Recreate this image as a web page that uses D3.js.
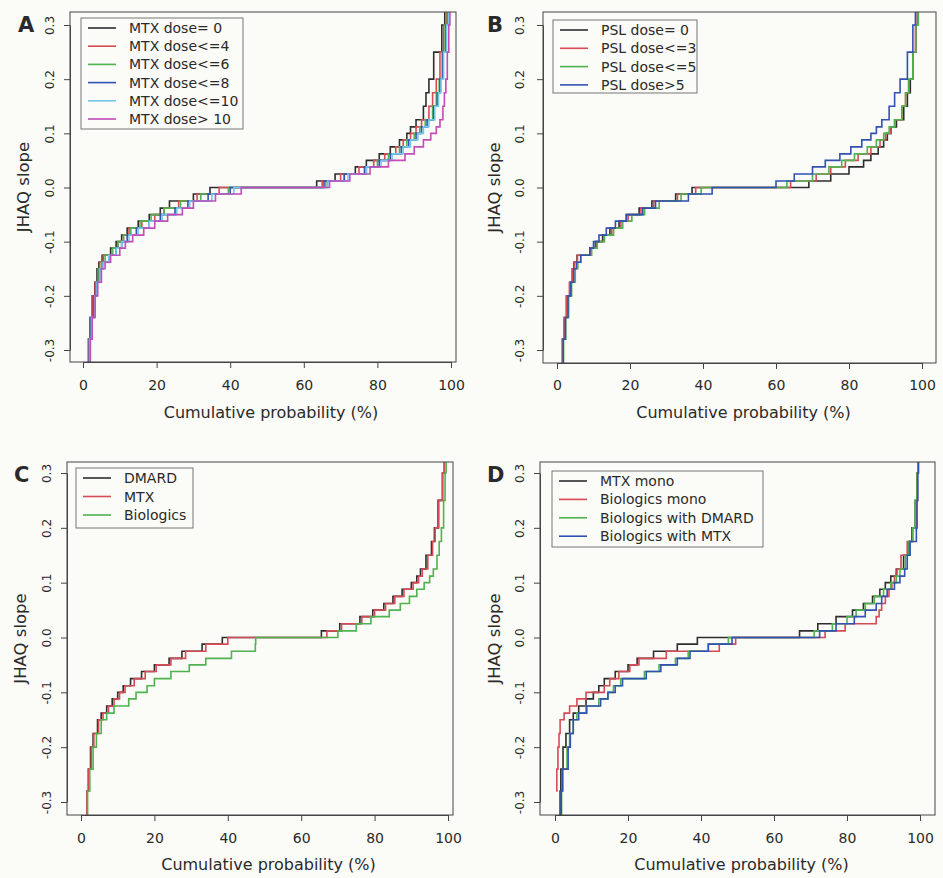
<!DOCTYPE html>
<html>
<head>
<meta charset="utf-8">
<script src="https://cdn.jsdelivr.net/npm/d3@7"></script>
<style>
  body { margin: 0; background: #fbfbf7; }
  text { font-family: "DejaVu Sans", "Liberation Sans", sans-serif; fill: #2a2a2a; }
</style>
</head>
<body>
<div id="chart"></div>
<script>
// slope levels shared by every curve; each series gives the cumulative % where the level starts
const slopeLevels = [-0.33, -0.28, -0.24, -0.2, -0.175, -0.15, -0.138, -0.125, -0.112, -0.1, -0.088, -0.075,
  -0.062, -0.05, -0.038, -0.025, -0.012, 0, 0.012, 0.025, 0.038, 0.05, 0.062, 0.075, 0.088, 0.1, 0.112,
  0.125, 0.15, 0.175, 0.2, 0.25, 0.3, 0.33];

const xTicks = [0, 20, 40, 60, 80, 100];
const yTicks = [-0.3, -0.2, -0.1, 0, 0.1, 0.2, 0.3];
const yTickLabels = ["-0.3", "-0.2", "-0.1", "0.0", "0.1", "0.2", "0.3"];

// A: MTX dose
const mtxNames = ["MTX dose= 0", "MTX dose<=4", "MTX dose<=6", "MTX dose<=8", "MTX dose<=10", "MTX dose> 10"];
const mtxDose0 = [1.2, 1.5, 1.9, 2.5, 3.2, 3.8, 4.3, 5.2, 7.5, 9, 10.5, 12, 15, 18, 21, 23.5, 30, 34.5,
  63.5, 68.5, 74, 77, 80.5, 83.5, 86, 88, 89, 90.5, 92.5, 93.2, 94, 95.3, 97.5, 98.3];
const mtxDose4 = [1.2, 1.5, 2, 2.7, 3.3, 4, 4.5, 5.5, 8, 9.5, 11, 12.5, 16, 19.5, 22, 26, 31, 37,
  65, 70, 75, 79, 82, 85, 87, 89, 90.5, 92, 94, 95, 96, 97, 98, 98.8];
const mtxDose6 = [1.5, 1.8, 2.3, 3, 3.5, 4.3, 5, 6, 8, 9.5, 11, 13, 15.5, 18.5, 22, 26.5, 32, 39.5,
  66, 71, 77, 80, 83, 86, 88, 90, 91.5, 93, 95, 96, 96.8, 97.6, 98.4, 99];
const mtxDose8 = [1.3, 1.7, 2.2, 3, 3.7, 4.5, 5.5, 7, 9, 10.5, 12, 14.5, 18, 21, 25, 28.5, 34, 40,
  65.5, 71, 76.5, 80.5, 83.5, 86.5, 88.5, 90.5, 92, 93.5, 95.3, 96.3, 97, 97.8, 98.6, 99.2];
const mtxDose10 = [1.4, 1.8, 2.3, 3.2, 3.8, 4.6, 5.5, 7, 9, 10.5, 12.5, 15, 18, 21.5, 25.5, 29, 35, 41,
  66.5, 72, 77, 81, 84, 87, 89, 91, 92.5, 94, 95.6, 96.6, 97.3, 98, 98.8, 99.3];
const mtxDoseOver10 = [1.5, 2, 2.5, 3.3, 4, 5, 6, 7.5, 10, 11.5, 13.5, 16.5, 19.5, 23, 27, 30, 36, 43,
  67, 72.5, 78, 83, 87.5, 90, 92.5, 94.5, 96, 97, 97.8, 98.2, 98.6, 99, 99.4, 99.7];

// B: PSL dose
const pslNames = ["PSL dose= 0", "PSL dose<=3", "PSL dose<=5", "PSL dose>5"];
const pslDose0 = [1.2, 1.5, 2, 2.6, 3.5, 4.2, 4.6, 5.5, 9, 10.5, 12.5, 14.5, 17, 19, 22.5, 26, 32.5, 37,
  69, 75, 80, 84, 86, 88, 89.5, 90.5, 91.5, 93, 95, 96, 96.8, 97.5, 98.3, 98.8];
const pslDose3 = [1.2, 1.5, 2, 2.6, 3.4, 4.2, 4.7, 5.6, 9.2, 10.8, 12.8, 15, 17.5, 19.5, 23, 26.5, 33, 38,
  64, 71, 75, 79, 82.5, 86, 88.5, 90, 91.5, 92.5, 94.5, 95.5, 96.5, 97.5, 98.2, 98.7];
const pslDose5 = [1.5, 1.8, 2.4, 3.2, 4, 5, 5.7, 6.5, 9.5, 11, 13, 15.5, 18, 20.5, 24, 28, 34, 39.5,
  63, 70, 74.5, 78, 81.5, 85, 87.5, 89.5, 91, 92.5, 94.5, 95.5, 96.3, 97.5, 98.3, 99];
const pslDoseOver5 = [1.3, 1.7, 2.3, 3, 3.8, 4.6, 5.3, 6.5, 9, 10, 11.5, 13.5, 16, 19, 23.5, 27, 36, 42.5,
  60, 65, 70, 73.5, 77.5, 80.5, 83.5, 86, 87.5, 89, 91, 92.5, 94, 96, 97.5, 98.2];

// C: drug class
const drugNames = ["DMARD", "MTX", "Biologics"];
const dmard = [1.2, 1.6, 2, 2.6, 3.3, 4.5, 5.5, 7, 8.5, 10, 11.5, 13.5, 16.5, 20, 24, 27.5, 33, 38.5,
  65.5, 70.5, 76, 79.5, 82.5, 85, 87.5, 90, 91.5, 92.5, 94, 95.5, 96.3, 97.3, 98.5, 99];
const mtx = [1.2, 1.6, 2.1, 2.8, 3.5, 4.8, 6, 7.5, 9, 10.5, 12, 14.5, 17.5, 20.5, 24.5, 28.5, 34, 40,
  67, 71, 76.5, 80, 83, 85.5, 88, 90.5, 92, 93, 94.5, 95.8, 96.5, 97.5, 98.5, 99];
const biologics = [1.4, 1.8, 2.4, 3.3, 4.2, 5.5, 7, 9, 13, 15, 18, 20, 24.5, 29.5, 34, 41, 47.5, 47.6,
  70, 75, 79, 84, 87, 89.5, 91.5, 93.5, 95, 96, 97, 97.6, 98.2, 98.8, 99.2, 99.5];

// D: treatment combination
const comboNames = ["MTX mono", "Biologics mono", "Biologics with DMARD", "Biologics with MTX"];
const mtxMono = [1.2, 1.4, 1.6, 2.2, 3, 4, 5, 6.5, 8.5, 10.5, 12, 13.5, 16.5, 20, 22.5, 27, 33.5, 39,
  67, 72, 77, 81.5, 84.5, 87, 89, 90.5, 92, 93.5, 95.5, 97, 97.8, 98.7, 99.2, 99.5];
const biologicsMono = [null, 0.3, 0.5, 0.8, 1.1, 1.4, 2.5, 4, 6, 8.5, 13.5, 15, 17.5, 20.5, 23, 30.5, 45, 49.5,
  74, 79.5, 88, 88.8, 89.5, 90.5, 91.5, 92.3, 93, 93.7, 94.8, 96.5, 98, 99, 99.3, 99.5];
const biologicsDmard = [1.5, 1.8, 2.2, 3.3, 4, 5, 6, 8.5, 12, 14.5, 16, 18, 24.5, 28.5, 33, 36.5, 42, 47.5,
  71, 76, 80, 82.5, 85, 87.5, 90, 92, 93.5, 94.5, 96, 97, 98, 98.7, 99.2, 99.5];
const biologicsMtx = [1.4, 1.7, 2, 3.6, 4.2, 5, 6.5, 8.7, 12.5, 14.5, 16.5, 18.5, 25, 29, 33.5, 37, 42, 48.5,
  72.5, 77, 82, 85, 88, 89.5, 91, 93, 94.5, 95.8, 96.5, 97.3, 99, 99.2, 99.4, 99.6];

const palette = ["#2e2e2e", "#d64b57", "#4fb34f", "#3152b3", "#74c8ea", "#c24cb8"];

const panels = [
  { letter: "A", names: mtxNames, series: [mtxDose0, mtxDose4, mtxDose6, mtxDose8, mtxDose10, mtxDoseOver10],
    box: [70, 12, 456, 362], xr: [83, 451], yr: [350, 25], legend: [81, 18, 243, 129], legendRow: 18.2,
    yTickX: 50, yTitleX: 23, letterXY: [18, 32], titleY: 418, tickY: 390 },
  { letter: "B", names: pslNames, series: [pslDose0, pslDose3, pslDose5, pslDoseOver5],
    box: [543, 12, 936, 363], xr: [557, 922], yr: [350, 25], legend: [553, 20, 697, 93], legendRow: 18.3,
    yTickX: 520, yTitleX: 494, letterXY: [487, 32], titleY: 418, tickY: 390 },
  { letter: "C", names: drugNames, series: [dmard, mtx, biologics],
    box: [67, 462, 453, 815], xr: [81, 448], yr: [802, 473], legend: [76, 468, 193, 528], legendRow: 18.5,
    yTickX: 47, yTitleX: 20, letterXY: [14, 482], titleY: 870, tickY: 843 },
  { letter: "D", names: comboNames, series: [mtxMono, biologicsMono, biologicsDmard, biologicsMtx],
    box: [540, 462, 935, 815], xr: [555, 920], yr: [802, 473], legend: [552, 471, 763, 547], legendRow: 18.4,
    yTickX: 520, yTitleX: 494, letterXY: [487, 482], titleY: 870, tickY: 843 }
];

const svg = d3.select("#chart").append("svg")
  .attr("width", 943).attr("height", 878);

svg.append("rect").attr("width", 943).attr("height", 878).attr("fill", "#fbfbf7");

panels.forEach((p, pi) => {
  const [bx0, by0, bx1, by1] = p.box;
  const x = d3.scaleLinear().domain([0, 100]).range(p.xr);
  const y = d3.scaleLinear().domain([-0.3, 0.3]).range(p.yr);
  const g = svg.append("g");

  const clipId = "clip" + pi;
  g.append("clipPath").attr("id", clipId)
    .append("rect").attr("x", bx0).attr("y", by0).attr("width", bx1 - bx0).attr("height", by1 - by0);

  const line = d3.line()
    .x(d => x(d[0])).y(d => y(d[1]))
    .curve(d3.curveStepAfter);

  g.append("g").attr("clip-path", `url(#${clipId})`)
    .selectAll("path")
    .data(p.series)
    .join("path")
    .attr("fill", "none")
    .attr("stroke", (d, i) => palette[i])
    .attr("stroke-width", 1.6)
    .attr("d", s => line(slopeLevels.map((v, i) => [s[i], v]).filter(d => d[0] != null)));

  // frame
  g.append("rect").attr("x", bx0).attr("y", by0).attr("width", bx1 - bx0).attr("height", by1 - by0)
    .attr("fill", "none").attr("stroke", "#444").attr("stroke-width", 1);

  // x axis
  const xa = g.append("g").attr("transform", `translate(0,${by1})`)
    .call(d3.axisBottom(x).tickValues(xTicks).tickSize(6).tickSizeOuter(0).tickFormat(d3.format("d")));
  xa.selectAll("path,line").attr("stroke", "#444");
  xa.selectAll("text").attr("font-size", 14).attr("dy", null).attr("y", p.tickY - by1)
    .attr("font-family", "DejaVu Sans").attr("fill", "#2a2a2a");

  // y axis
  const ya = g.append("g").attr("transform", `translate(${bx0},0)`)
    .call(d3.axisLeft(y).tickValues(yTicks).tickSize(6).tickSizeOuter(0).tickFormat((d, i) => yTickLabels[i]));
  ya.selectAll("path,line").attr("stroke", "#444");
  ya.selectAll("text").attr("font-size", 12).attr("x", null).attr("dy", null)
    .attr("text-anchor", "middle").attr("font-family", "DejaVu Sans").attr("fill", "#2a2a2a")
    .attr("transform", `translate(${p.yTickX - bx0 + 4},0) rotate(-90)`);

  // titles
  g.append("text").attr("x", (p.xr[0] + p.xr[1]) / 2 + 4).attr("y", p.titleY)
    .attr("text-anchor", "middle").attr("font-size", 16).text("Cumulative probability (%)");
  g.append("text").attr("transform", `translate(${p.yTitleX + 6},${(by0 + by1) / 2}) rotate(-90)`)
    .attr("text-anchor", "middle").attr("font-size", 16.5).text("JHAQ slope");
  g.append("text").attr("x", p.letterXY[0]).attr("y", p.letterXY[1])
    .attr("font-size", 21).attr("font-weight", "bold").attr("font-family", "Liberation Sans")
    .text(p.letter);

  // legend
  const [lx0, ly0, lx1, ly1] = p.legend;
  const lg = g.append("g");
  lg.append("rect").attr("x", lx0).attr("y", ly0).attr("width", lx1 - lx0).attr("height", ly1 - ly0)
    .attr("fill", "#fbfbf7").attr("stroke", "#777").attr("stroke-width", 1);
  const rows = lg.selectAll("g.row").data(p.names).join("g")
    .attr("transform", (d, i) => `translate(${lx0},${ly0 + 10 + i * p.legendRow})`);
  rows.append("line").attr("x1", 7).attr("x2", 35).attr("stroke", (d, i) => palette[i]).attr("stroke-width", 1.6);
  rows.append("text").attr("x", 48).attr("dy", "0.36em").attr("font-size", 14).text(d => d);
});
</script>
</body>
</html>
